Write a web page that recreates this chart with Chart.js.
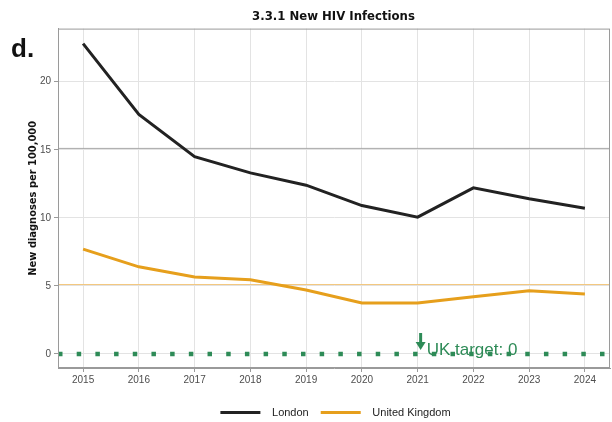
<!DOCTYPE html>
<html>
<head>
<meta charset="utf-8">
<script src="https://cdn.jsdelivr.net/npm/chart.js@4.4.1/dist/chart.umd.min.js"></script>
<style>
    html, body { margin: 0; padding: 0; background: #fff; }
    #wrap { position: relative; width: 612px; height: 422px; }
    #panelTag {
        position: absolute; left: 11px; top: 33px;
        font: bold 26px "Liberation Sans", Arial, sans-serif; color: #111;
    }
</style>
</head>
<body>
<div id="wrap">
    <canvas id="hivChart" width="612" height="422"></canvas>
    <div id="panelTag">d.</div>
</div>
<script>
const years = [2015, 2016, 2017, 2018, 2019, 2020, 2021, 2022, 2023, 2024];
const london = [22.8, 17.6, 14.5, 13.3, 12.4, 10.9, 10.05, 12.2, 11.4, 10.7];
const unitedKingdom = [7.7, 6.4, 5.65, 5.45, 4.7, 3.75, 3.75, 4.2, 4.65, 4.4];
const yTicks = [0, 5, 10, 15, 20];
const spanYears = [2014.55, 2024.45];
const londonRef = 15.1;
const ukRef = 5.1;
const ukTarget = 0;
const targetYear = 2021;

const green = "#2e8b57";

function flatLine(value) {
    return spanYears.map(x => ({ x: x, y: value }));
}

const frame = {
    id: "frame",
    afterLayout(chart) {
        // centre title and legend over the panel, legend a bit lower
        chart.titleBlock.left += 15;
        chart.titleBlock.right += 15;
        chart.legend.left += 17;
        chart.legend.right += 17;
        chart.legend.top += 8;
        chart.legend.bottom += 8;
    },
    afterDatasetsDraw(chart) {
        const { ctx, scales } = chart;
        const ax = scales.x.getPixelForValue(targetYear) + 3;
        const ay = scales.y.getPixelForValue(ukTarget) - 4;
        ctx.save();
        ctx.strokeStyle = green;
        ctx.fillStyle = green;
        ctx.lineWidth = 3;
        ctx.beginPath();
        ctx.moveTo(ax, ay - 17);
        ctx.lineTo(ax, ay - 6);
        ctx.stroke();
        ctx.beginPath();
        ctx.moveTo(ax - 5, ay - 8);
        ctx.lineTo(ax + 5, ay - 8);
        ctx.lineTo(ax, ay);
        ctx.closePath();
        ctx.fill();
        ctx.font = "17px 'Liberation Sans', Arial, sans-serif";
        ctx.fillText("UK target: 0", ax + 6, ay);
        ctx.restore();
    },
    afterDraw(chart) {
        const { ctx, chartArea: a } = chart;
        ctx.save();
        ctx.strokeStyle = "#9a9a9a";
        ctx.lineWidth = 1;
        ctx.strokeRect(a.left + 0.5, a.top + 0.5, a.right - a.left - 1, a.bottom - a.top - 1);
        ctx.restore();
    }
};

new Chart(document.getElementById("hivChart"), {
    type: "line",
    data: {
        datasets: [
            {
                label: "London",
                data: years.map((y, i) => ({ x: y, y: london[i] })),
                borderColor: "#222222",
                backgroundColor: "#222222",
                borderWidth: 3,
                pointRadius: 0,
                order: 1
            },
            {
                label: "United Kingdom",
                data: years.map((y, i) => ({ x: y, y: unitedKingdom[i] })),
                borderColor: "#e69f1c",
                backgroundColor: "#e69f1c",
                borderWidth: 3,
                pointRadius: 0,
                order: 2
            },
            {
                label: "ref-london",
                data: flatLine(londonRef),
                borderColor: "#a8a8a8",
                borderWidth: 1,
                pointRadius: 0,
                order: 3
            },
            {
                label: "ref-uk",
                data: flatLine(ukRef),
                borderColor: "#f3c77c",
                borderWidth: 1,
                pointRadius: 0,
                order: 4
            },
            {
                label: "target",
                data: flatLine(ukTarget),
                borderColor: green,
                borderWidth: 4.5,
                borderDash: [4.5, 14.19],
                borderCapStyle: "butt",
                pointRadius: 0,
                order: 0
            }
        ]
    },
    options: {
        responsive: false,
        animation: false,
        layout: {
            padding: { left: 27, right: 2, top: 0, bottom: 2 }
        },
        plugins: {
            tooltip: { enabled: false },
            title: {
                display: true,
                text: "3.3.1 New HIV Infections",
                color: "#111",
                font: { family: "'DejaVu Sans Condensed', sans-serif", size: 13, weight: "bold" },
                padding: { top: 9, bottom: 4 }
            },
            legend: {
                position: "bottom",
                labels: {
                    generateLabels: chart => {
                        const items = Chart.defaults.plugins.legend.labels.generateLabels(chart);
                        return items
                            .filter(it => it.text === "London" || it.text === "United Kingdom")
                            .map(it => Object.assign(it, { text: "  " + it.text }));
                    },
                    usePointStyle: true,
                    pointStyle: "line",
                    pointStyleWidth: 40,
                    color: "#222",
                    font: { family: "'Liberation Sans', Arial, sans-serif", size: 11 },
                    padding: 12
                }
            }
        },
        scales: {
            x: {
                type: "linear",
                min: spanYears[0],
                max: spanYears[1],
                afterBuildTicks: scale => {
                    scale.ticks = years.map(v => ({ value: v }));
                },
                afterFit: scale => { scale.height = 19; },
                ticks: {
                    callback: v => String(v),
                    color: "#4d4d4d",
                    font: { family: "'Liberation Sans', Arial, sans-serif", size: 10 },
                    padding: 2,
                    maxRotation: 0
                },
                grid: { color: "#e3e3e3", tickColor: "#9a9a9a", tickLength: 4 },
                border: { color: "#9a9a9a" }
            },
            y: {
                type: "linear",
                min: -1.03,
                max: 23.9,
                afterBuildTicks: scale => {
                    scale.ticks = yTicks.map(v => ({ value: v }));
                },
                afterFit: scale => { scale.width = 31; },
                ticks: {
                    color: "#4d4d4d",
                    font: { family: "'Liberation Sans', Arial, sans-serif", size: 10 },
                    padding: 3
                },
                title: {
                    display: true,
                    text: "New diagnoses per 100,000",
                    color: "#111",
                    font: { family: "'DejaVu Sans Condensed', sans-serif", size: 11, weight: "bold" },
                    padding: 0
                },
                grid: { color: "#e3e3e3", tickColor: "#9a9a9a", tickLength: 4 },
                border: { color: "#9a9a9a" }
            }
        }
    },
    plugins: [frame]
});
</script>
</body>
</html>
